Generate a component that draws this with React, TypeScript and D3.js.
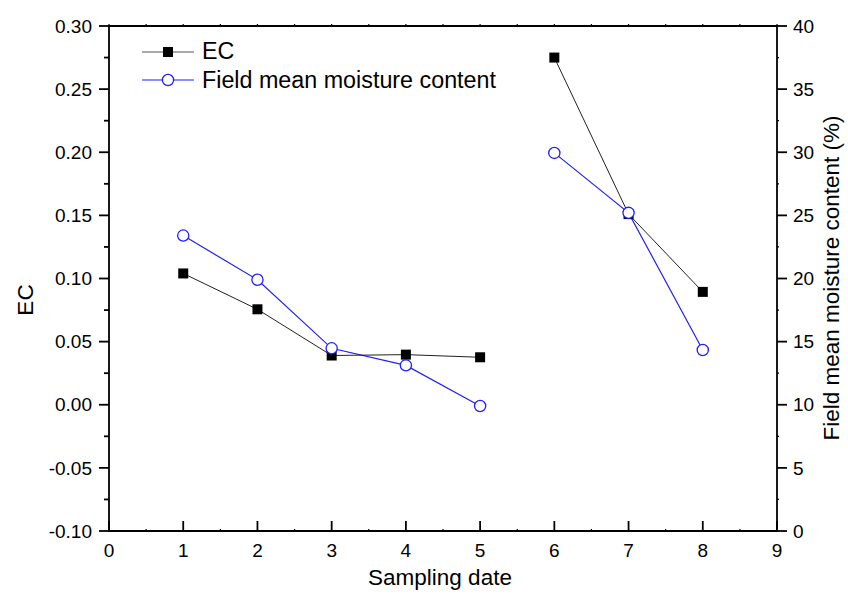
import React from "react";
import * as d3 from "d3";

const dates = [1, 2, 3, 4, 5, 6, 7, 8];
const ecValues = [0.104, 0.0756, 0.039, 0.0397, 0.0376, 0.275, 0.151, 0.0894];
const moistureValues = [23.4, 19.9, 14.47, 13.12, 9.9, 29.95, 25.2, 14.34];
const segments = [[0, 5], [5, 8]];
const xTicks = [0, 1, 2, 3, 4, 5, 6, 7, 8, 9];
const yLeftTicks = [-0.1, -0.05, 0, 0.05, 0.1, 0.15, 0.2, 0.25, 0.3];
const yRightTicks = [0, 5, 10, 15, 20, 25, 30, 35, 40];

const W = 848, H = 596;
const L = 109, R = 777, T = 26, B = 531;
const FONT = "'Liberation Sans', Arial, sans-serif";

export default function App() {
  const x = d3.scaleLinear().domain([0, 9]).range([L, R]);
  const yL = d3.scaleLinear().domain([-0.1, 0.3]).range([B, T]);
  const yR = d3.scaleLinear().domain([0, 40]).range([B, T]);

  const mkLine = (vals: number[], ys: d3.ScaleLinear<number, number>, s: number[]) =>
    d3.line<number>()
      .x((d) => x(d))
      .y((d) => ys(vals[dates.indexOf(d)]))(dates.slice(s[0], s[1])) || "";

  const xMinor = d3.range(0.5, 9, 1);
  const yLMinor = d3.range(-0.075, 0.3, 0.05);
  const yRMinor = d3.range(2.5, 40, 5);
  const axisW = 1.8;
  const fmtL = (v: number) => d3.format(".2f")(v).replace("\u2212", "-");

  return (
    <svg width={W} height={H} style={{ position: "absolute", left: 0, top: 0, background: "#fff" }} fontFamily={FONT}>
      <rect x={0} y={0} width={W} height={H} fill="#fff" />
      {/* lines */}
      {segments.map((s, i) => (
        <path key={"m" + i} d={mkLine(moistureValues, yR, s)} fill="none" stroke="#1f1fff" strokeWidth={1.2} />
      ))}
      {segments.map((s, i) => (
        <path key={"e" + i} d={mkLine(ecValues, yL, s)} fill="none" stroke="#222" strokeWidth={1} />
      ))}
      {dates.map((d, i) => (
        <rect key={"sq" + i} x={x(d) - 5} y={yL(ecValues[i]) - 5} width={10} height={10} fill="#000" />
      ))}
      {dates.map((d, i) => (
        <circle key={"c" + i} cx={x(d)} cy={yR(moistureValues[i])} r={5.6} fill="#fff" stroke="#1f1fff" strokeWidth={1.3} />
      ))}

      {/* frame */}
      <line x1={L} x2={R} y1={T} y2={T} stroke="#000" strokeWidth={axisW} />
      <line x1={L} x2={R + 0.9} y1={B} y2={B} stroke="#000" strokeWidth={axisW} />
      <line x1={L} x2={L} y1={T - 0.9} y2={B + 0.9} stroke="#000" strokeWidth={axisW} />
      <line x1={R} x2={R} y1={T - 0.9} y2={B + 0.9} stroke="#000" strokeWidth={axisW} />

      {/* bottom axis */}
      {xTicks.map((t) => (
        <g key={"xt" + t}>
          <line x1={x(t)} x2={x(t)} y1={B} y2={B - 10} stroke="#000" strokeWidth={axisW} />
          <line x1={x(t)} x2={x(t)} y1={T} y2={T - 2} stroke="#000" strokeWidth={1.2} />
          <text x={x(t)} y={557} fontSize={19} textAnchor="middle">{t}</text>
        </g>
      ))}
      {xMinor.map((t) => (
        <g key={"xm" + t}>
          <line x1={x(t)} x2={x(t)} y1={B} y2={B - 2} stroke="#000" strokeWidth={1.2} />
          <line x1={x(t)} x2={x(t)} y1={T} y2={T - 2} stroke="#000" strokeWidth={1.2} />
        </g>
      ))}
      <text x={440} y={585} fontSize={22.5} textAnchor="middle">Sampling date</text>

      {/* left axis */}
      {yLeftTicks.map((t) => (
        <g key={"yl" + t}>
          <line x1={L} x2={L - 10} y1={yL(t)} y2={yL(t)} stroke="#000" strokeWidth={axisW} />
          <text x={92} y={yL(t)} dy="0.35em" fontSize={19} textAnchor="end">{fmtL(t)}</text>
        </g>
      ))}
      {yLMinor.map((t) => (
        <line key={"ylm" + t} x1={L} x2={L - 5} y1={yL(t)} y2={yL(t)} stroke="#000" strokeWidth={axisW} />
      ))}
      <text transform={`translate(33,300) rotate(-90)`} fontSize={22.5} textAnchor="middle">EC</text>

      {/* right axis */}
      {yRightTicks.map((t) => (
        <g key={"yr" + t}>
          <line x1={R} x2={R + 10} y1={yR(t)} y2={yR(t)} stroke="#000" strokeWidth={axisW} />
          <text x={793} y={yR(t)} dy="0.35em" fontSize={19} textAnchor="start">{t}</text>
        </g>
      ))}
      {yRMinor.map((t) => (
        <line key={"yrm" + t} x1={R} x2={R + 2} y1={yR(t)} y2={yR(t)} stroke="#000" strokeWidth={1.2} />
      ))}
      <text transform={`translate(839,278) rotate(-90)`} fontSize={22.5} textAnchor="middle">Field mean moisture content (%)</text>

      {/* legend */}
      <line x1={142} x2={194} y1={52} y2={52} stroke="#555" strokeWidth={1.2} />
      <rect x={163} y={47} width={10} height={10} fill="#000" />
      <text x={202} y={59} fontSize={23.3}>EC</text>
      <line x1={142} x2={194} y1={80} y2={80} stroke="#1f1fff" strokeWidth={1.2} />
      <circle cx={168} cy={80} r={5.6} fill="#fff" stroke="#1f1fff" strokeWidth={1.3} />
      <text x={202} y={88} fontSize={23.3}>Field mean moisture content</text>
    </svg>
  );
}
